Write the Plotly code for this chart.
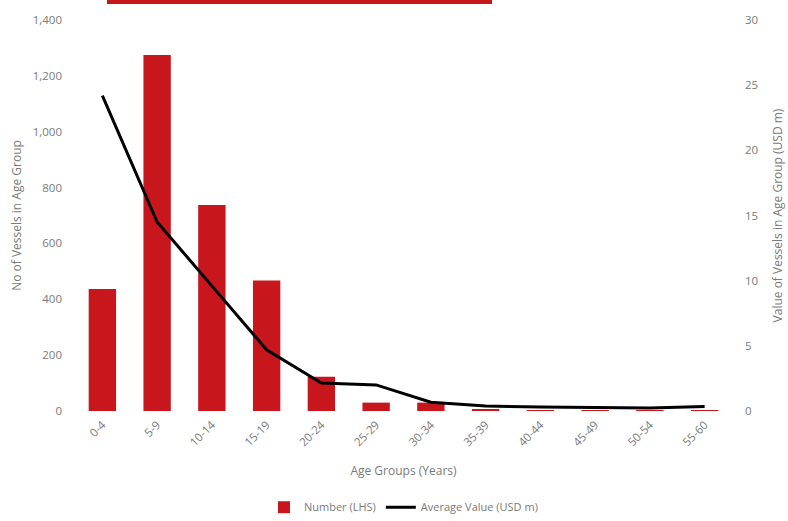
import plotly.graph_objects as go

age_groups = ["0-4", "5-9", "10-14", "15-19", "20-24", "25-29", "30-34",
              "35-39", "40-44", "45-49", "50-54", "55-60"]
number_vessels = [437, 1275, 738, 467, 123, 30, 30, 7, 3, 3, 1, 3]
avg_value = [24.2, 14.5, 9.6, 4.7, 2.15, 2.0, 0.67, 0.38, 0.3, 0.27, 0.23, 0.35]

left_ticks = [0, 200, 400, 600, 800, 1000, 1200, 1400]
left_tick_text = ["0", "200", "400", "600", "800", "1,000", "1,200", "1,400"]
right_ticks = [0, 5, 10, 15, 20, 25, 30]

RED = "#C8161D"
GREY = "#7a7a7a"
FONT = "Open Sans"

fig = go.Figure()
fig.add_trace(go.Bar(x=age_groups, y=number_vessels, name="Number (LHS)",
                     marker=dict(color=RED, line=dict(width=0)), yaxis="y"))
fig.add_trace(go.Scatter(x=age_groups, y=avg_value, name="Average Value (USD m)",
                         mode="lines", line=dict(color="black", width=3),
                         yaxis="y2"))

fig.update_layout(
    width=788, height=521,
    margin=dict(l=75, r=56, t=20, b=110, autoexpand=False),
    paper_bgcolor="white", plot_bgcolor="white",
    font=dict(family=FONT, color=GREY, size=11),
    bargap=0.5,
    showlegend=True,
    legend=dict(orientation="h", x=0.5, xanchor="center", y=-0.283, yanchor="bottom",
                font=dict(size=11, color=GREY)),
    xaxis=dict(tickangle=-45, showgrid=False, showline=False, zeroline=False,
               automargin=False,
               tickfont=dict(size=11.5, color=GREY), ticklabelstandoff=4,
               title=dict(text="Age Groups (Years)", font=dict(size=12, color=GREY),
                          standoff=18)),
    yaxis=dict(range=[0, 1400], tickvals=left_ticks, ticktext=left_tick_text,
               showgrid=False, zeroline=False, showline=False, automargin=False,
               tickfont=dict(size=11.5, color=GREY), ticklabelstandoff=12,
               title=dict(text="No of Vessels in Age Group",
                          font=dict(size=12, color=GREY), standoff=8)),
    yaxis2=dict(range=[0, 30], tickvals=right_ticks, overlaying="y", side="right",
                showgrid=False, zeroline=False, showline=False, automargin=False,
                tickfont=dict(size=11.5, color=GREY), ticklabelstandoff=12,
                title=dict(text="Value of Vessels in Age Group (USD m)",
                           font=dict(size=12, color=GREY), standoff=16)),
    shapes=[dict(type="rect", xref="paper", yref="paper",
                 x0=0.0487, x1=0.6347, y0=1.041, y1=1.06,
                 fillcolor=RED, line=dict(width=0), layer="above")],
)

fig.write_html("out.html")
